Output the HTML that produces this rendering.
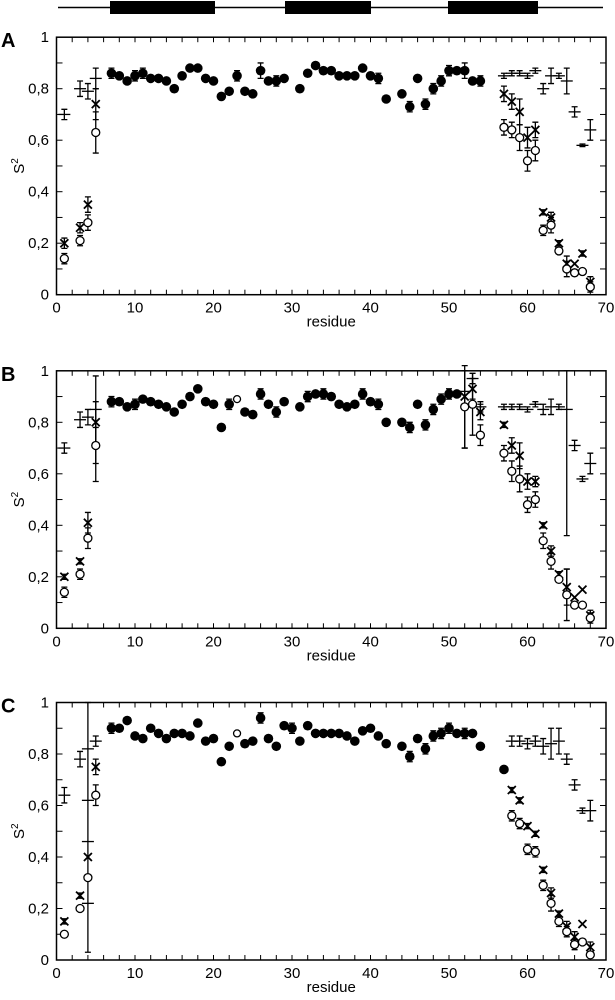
<!DOCTYPE html>
<html><head><meta charset="utf-8"><style>
html,body{margin:0;padding:0;background:#fff;}
svg{display:block;font-family:"Liberation Sans",Arial,sans-serif;}
</style></head><body>
<svg id="s" width="615" height="1000" viewBox="0 0 615 1000" xmlns="http://www.w3.org/2000/svg">
<line x1="58" y1="7.5" x2="603" y2="7.5" stroke="#000" stroke-width="1.5"/>
<rect x="110" y="1" width="105" height="13" fill="#000"/>
<rect x="285" y="1" width="86" height="13" fill="#000"/>
<rect x="448" y="1" width="90" height="13" fill="#000"/>
</svg>
<script>
const S=document.getElementById('s');let h='';
const X0=56.5,XS=7.85;
function panel(top,y0,letter,F,O,Xm,P){
 const ys=257.5;const Y=v=>y0-v*ys;const Xf=x=>X0+x*XS;
 h+=`<rect x="${X0}" y="${Y(1)}" width="${70*XS}" height="${ys}" fill="none" stroke="#000" stroke-width="1.5"/>`;
 for(let i=2;i<70;i+=2){const x=Xf(i);h+=`<line x1="${x}" y1="${y0}" x2="${x}" y2="${y0-5}" stroke="#000"/><line x1="${x}" y1="${Y(1)}" x2="${x}" y2="${Y(1)+5}" stroke="#000"/>`;}
 for(let i=1;i<10;i++){const y=Y(i/10);h+=`<line x1="${X0}" y1="${y}" x2="${X0+6}" y2="${y}" stroke="#000"/><line x1="${Xf(70)}" y1="${y}" x2="${Xf(70)-6}" y2="${y}" stroke="#000"/>`;}
 for(let i=0;i<=5;i++){const v=i/5;const t=i==0?'0':i==5?'1':'0,'+(2*i);h+=`<text x="49" y="${Y(v)+5}" font-size="15" text-anchor="end">${t}</text>`;}
 for(let i=0;i<=7;i++)h+=`<text x="${Xf(i*10)}" y="${y0+18}" font-size="15" text-anchor="middle">${i*10}</text>`;
 h+=`<text x="${Xf(35)}" y="${y0+32}" font-size="15" text-anchor="middle">residue</text>`;
 h+=`<text transform="translate(24,${Y(0.5)}) rotate(-90)" font-size="15" text-anchor="middle">S<tspan dy="-6" font-size="10">2</tspan></text>`;
 h+=`<text x="1" y="${Y(1)+10}" font-size="20" font-weight="bold">${letter}</text>`;
 function eb(d){const x=Xf(d[0]);let lo,hi;if(d.length>3){lo=d[2];hi=d[3];}else{const e=d[2]||0;lo=d[1]-e;hi=d[1]+e;}
  if(hi-lo<=0)return;h+=`<path d="M${x} ${Y(lo)}V${Y(hi)}M${x-3} ${Y(lo)}h6M${x-3} ${Y(hi)}h6" stroke="#000" stroke-width="1.3" fill="none"/>`;}
 P.forEach(d=>{eb(d);const x=Xf(d[0]);h+=`<line x1="${x-6}" x2="${x+6}" y1="${Y(d[1])}" y2="${Y(d[1])}" stroke="#000" stroke-width="1.3"/>`;});
 Xm.forEach(d=>{eb(d);const x=Xf(d[0]),y=Y(d[1]);h+=`<path d="M${x-4} ${y-4}L${x+4} ${y+4}M${x-4} ${y+4}L${x+4} ${y-4}" stroke="#000" stroke-width="1.8"/>`;});
 O.forEach(d=>{eb(d);h+=`<circle cx="${Xf(d[0])}" cy="${Y(d[1])}" r="4" fill="#fff" stroke="#000" stroke-width="1.3"/>`;});
 F.forEach(d=>{eb(d);h+=d[3]==='o'?`<circle cx="${Xf(d[0])}" cy="${Y(d[1])}" r="3.5" fill="#fff" stroke="#000" stroke-width="1.3"/>`:`<circle cx="${Xf(d[0])}" cy="${Y(d[1])}" r="4.8" fill="#000"/>`;});
}
panel(37,294.7,'A',
[[7,.86,.02],[8,.85],[9,.83],[10,.85,.02],[11,.86,.02],[12,.84],[13,.84],[14,.83],[15,.80],[16,.85],[17,.88],[18,.88],[19,.84],[20,.83],[21,.77],[22,.79],[23,.85,.02],[24,.79],[25,.78],[26,.87,.03],[27,.83],[28,.83,.02],[29,.84],[31,.80],[32,.86],[33,.89],[34,.87],[35,.87],[36,.85],[37,.85],[38,.85],[39,.88],[40,.85],[41,.84,.02],[42,.76],[44,.78],[45,.73,.02],[46,.84],[47,.74,.02],[48,.80,.02],[49,.83,.02],[50,.87,.02],[51,.87],[52,.87,.03],[53,.83],[54,.83,.02]],
[[1,.14,.02],[3,.21,.02],[4,.28,.03],[5,.63,.08],[57,.65,.03],[58,.64,.03],[59,.61,.05],[60,.52,.04],[61,.56,.04],[62,.25,.02],[63,.27,.03],[64,.17],[65,.10,.03],[66,.085],[67,.09],[68,.03,.02]],
[[1,.20,.02],[3,.26,.02],[4,.35,.03],[5,.74,.06],[57,.78,.03],[58,.75,.03],[59,.71,.05],[60,.61,.04],[61,.64,.03],[62,.32,.01],[63,.30,.02],[64,.20,.01],[65,.12,.03],[66,.12],[67,.16,.01],[68,.05,.02]],
[[1,.70,.02],[3,.80,.03],[4,.79,.03],[5,.84,.04],[57,.85,.01],[58,.86,.01],[59,.86,.01],[60,.85,.01],[61,.87,.01],[62,.80,.02],[63,.85,.03],[64,.85,.01],[65,.83,.05],[66,.71,.02],[67,.58,.005],[68,.64,.04]]);
panel(371,628.3,'B',
[[7,.88,.02],[8,.88],[9,.86],[10,.87,.02],[11,.89],[12,.88],[13,.87],[14,.86],[15,.84],[16,.87],[17,.90],[18,.93],[19,.88],[20,.87],[21,.78],[22,.87,.02],[23,.89,.03,'o'],[24,.84],[25,.83],[26,.91,.02],[27,.87],[28,.84,.02],[29,.88],[31,.86],[32,.90,.02],[33,.91],[34,.91,.02],[35,.90],[36,.87],[37,.86],[38,.87],[39,.91,.02],[40,.88],[41,.87,.02],[42,.80],[44,.80],[45,.78,.02],[46,.87],[47,.79,.02],[48,.85,.02],[49,.89,.02],[50,.91,.02],[51,.91]],
[[1,.14,.02],[3,.21,.02],[4,.35,.04],[5,.71,.07],[52,.86,.16],[53,.87,.12],[54,.75,.04],[57,.68,.03],[58,.61,.04],[59,.58,.05],[60,.48,.03],[61,.50,.03],[62,.34,.03],[63,.26,.03],[64,.19],[65,.13,.10],[66,.09],[67,.09],[68,.04,.02]],
[[1,.20,.01],[3,.26,.01],[4,.41,.04],[5,.80,.08],[52,.90],[53,.93,.04],[54,.84,.03],[57,.79,.01],[58,.71,.03],[59,.67,.05],[60,.57,.03],[61,.57,.02],[62,.40,.01],[63,.30,.02],[64,.21,.01],[65,.16,.07],[66,.12],[67,.15],[68,.05,.02]],
[[1,.70,.02],[3,.81,.03],[4,.82,.03],[5,.85,.57,.98],[52,.92,.70,1],[53,.97,.02],[54,.86,.02],[57,.86,.01],[58,.86,.01],[59,.86,.01],[60,.85,.01],[61,.87,.01],[62,.85,.02],[63,.86,.03],[64,.86,.01],[65,.85,.36,1],[66,.71,.02],[67,.58,.01],[68,.64,.04]]);
panel(702,960,'C',
[[7,.90,.02],[8,.90],[9,.93],[10,.87],[11,.86],[12,.90],[13,.88],[14,.86],[15,.88],[16,.88],[17,.87],[18,.92],[19,.85],[20,.86],[21,.77],[22,.83],[23,.88,.02,'o'],[24,.84],[25,.85],[26,.94,.02],[27,.86],[28,.83],[29,.91],[30,.90,.02],[31,.85],[32,.91],[33,.88],[34,.88],[35,.88],[36,.88],[37,.87],[38,.85],[39,.89],[40,.90],[41,.87],[42,.84],[44,.83],[45,.79,.02],[46,.86],[47,.82,.02],[48,.87,.02],[49,.88,.02],[50,.90,.02],[51,.88],[52,.88,.02],[53,.88],[54,.83],[57,.74]],
[[1,.10],[3,.20],[4,.32],[5,.64,.04],[58,.56,.02],[59,.53,.02],[60,.43,.02],[61,.42,.02],[62,.29,.02],[63,.22,.03],[64,.15,.02],[65,.11,.02],[66,.06,.02],[67,.07],[68,.02,.01]],
[[1,.15,.01],[3,.25,.01],[4,.40,.03,1],[5,.75,.03],[58,.66,.01],[59,.62,.01],[60,.52,.01],[61,.49,.01],[62,.35,.01],[63,.26,.02],[64,.18,.01],[65,.13,.02],[66,.09,.02],[67,.14],[68,.05,.02]],
[[1,.64,.03],[3,.78,.03],[4,.62],[4,.46],[4,.22],[4,.82],[5,.85,.02],[58,.85,.02],[59,.85,.02],[60,.84,.02],[61,.85,.02],[62,.83,.03],[63,.84,.06],[64,.85,.05],[65,.78,.02],[66,.68,.02],[67,.58,.01],[68,.58,.04]]);
S.insertAdjacentHTML('beforeend',h);
</script>
</body></html>
